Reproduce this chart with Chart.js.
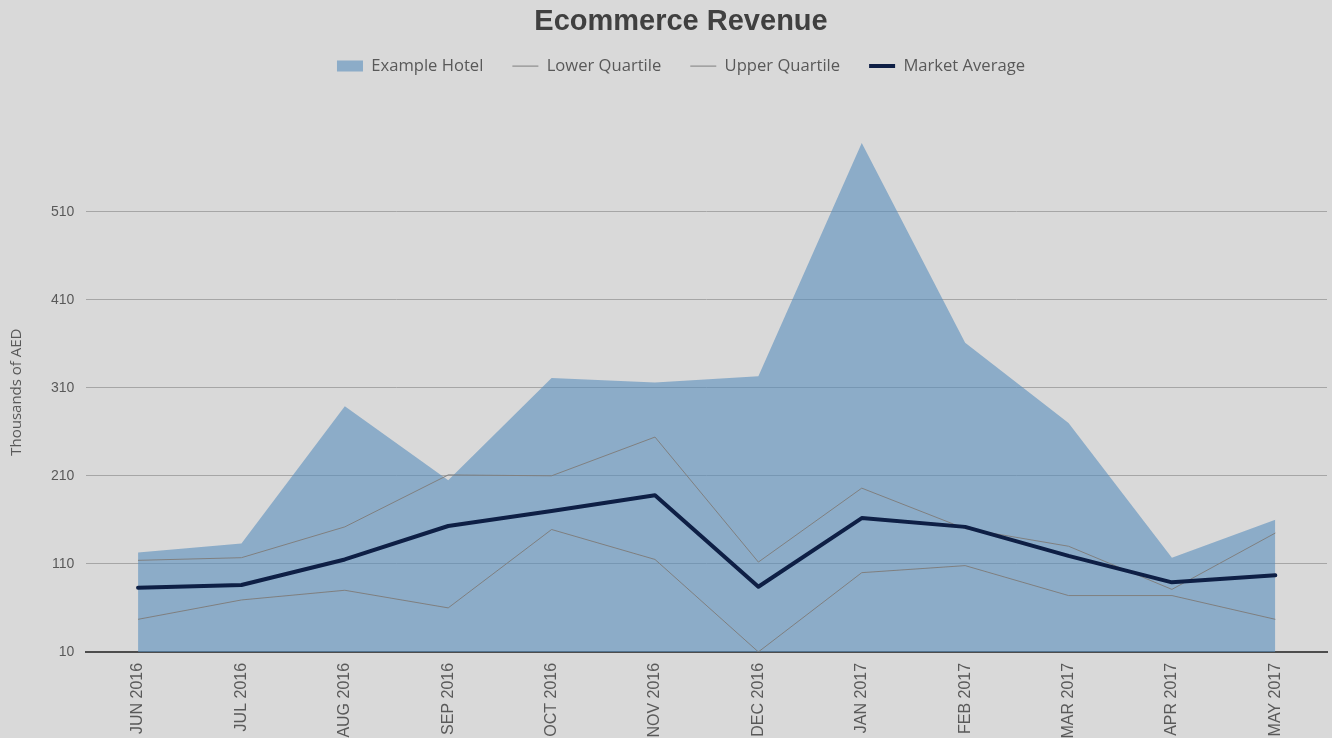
<!DOCTYPE html>
<html>
<head>
<meta charset="utf-8">
<script src="https://cdn.jsdelivr.net/npm/chart.js@4"></script>
<style>
html,body{margin:0;padding:0;background:#D9D9D9;}
#wrap{width:1332px;height:738px;}
</style>
</head>
<body>
<div id="wrap"><canvas id="c" width="1332" height="738"></canvas></div>
<script>
const categories = ["JUN 2016","JUL 2016","AUG 2016","SEP 2016","OCT 2016","NOV 2016","DEC 2016","JAN 2017","FEB 2017","MAR 2017","APR 2017","MAY 2017"];
const exampleHotel  = [123, 133, 289, 205, 321, 316, 323, 588, 361, 270, 117, 160];
const lowerQuartile = [47, 69, 80, 60, 149, 115, 10, 100, 108, 74, 74, 47];
const upperQuartile = [114, 117, 152, 211, 210, 254, 112, 196, 150, 130, 81, 145];
const marketAverage = [83, 86, 115, 153, 170, 188, 84, 162, 152, 119, 89, 97];
const yTickValues = [10, 110, 210, 310, 410, 510];
const yMin = 10, yMax = 600;

const textColor = '#595959';
const headerShift = 15;

const shiftHeader = {
  id: 'shiftHeader',
  afterLayout(chart) {
    [chart.titleBlock, chart.legend].forEach(b => {
      if (b) { b.left += headerShift; b.right += headerShift; }
    });
  }
};

new Chart(document.getElementById('c'), {
  type: 'line',
  plugins: [shiftHeader],
  data: {
    labels: categories,
    datasets: [
      {
        label: 'Example Hotel', data: exampleHotel, fill: 'start',
        backgroundColor: 'rgba(89,142,189,0.6)', borderWidth: 0, borderColor: 'rgba(0,0,0,0)',
        pointRadius: 0, tension: 0, order: 10,
        legendStyle: 'rect', legendFill: '#8CACC8', legendLine: 0
      },
      {
        label: 'Lower Quartile', data: lowerQuartile, fill: false,
        borderColor: '#7F7F7F', borderWidth: 1, pointRadius: 0, tension: 0, order: 3,
        legendStyle: 'line', legendFill: '#7F7F7F', legendLine: 1
      },
      {
        label: 'Upper Quartile', data: upperQuartile, fill: false,
        borderColor: '#7F7F7F', borderWidth: 1, pointRadius: 0, tension: 0, order: 2,
        legendStyle: 'line', legendFill: '#7F7F7F', legendLine: 1
      },
      {
        label: 'Market Average', data: marketAverage, fill: false,
        borderColor: '#0E1F45', borderWidth: 4, pointRadius: 0, tension: 0, order: 1,
        borderJoinStyle: 'round', borderCapStyle: 'round',
        legendStyle: 'line', legendFill: '#0E1F45', legendLine: 4
      }
    ]
  },
  options: {
    responsive: false,
    animation: false,
    devicePixelRatio: 1,
    layout: { padding: { left: 5, right: 5, top: 0, bottom: -11.5 } },
    plugins: {
      tooltip: { enabled: false },
      title: {
        display: true, text: 'Ecommerce Revenue', color: '#404040',
        font: { family: 'Liberation Sans', size: 29, weight: 'bold', lineHeight: 1.2 },
        padding: { top: 5, bottom: -11 }
      },
      subtitle: {
        display: true, text: '', weight: 500,
        font: { size: 1, lineHeight: 1 },
        padding: { top: 0, bottom: 47 }
      },
      legend: {
        display: true, position: 'top',
        labels: {
          usePointStyle: true, pointStyleWidth: 26, boxWidth: 26, boxHeight: 11,
          padding: 29, color: textColor,
          font: { family: 'Open Sans', size: 16.6 },
          generateLabels: (chart) => chart.data.datasets.map((ds, i) => ({
            text: ds.label,
            fillStyle: ds.legendFill,
            strokeStyle: ds.legendFill,
            lineWidth: ds.legendLine,
            pointStyle: ds.legendStyle,
            fontColor: textColor,
            hidden: false,
            datasetIndex: i
          }))
        }
      }
    },
    scales: {
      x: {
        offset: true,
        z: 1,
        grid: { display: false, drawTicks: false },
        border: { display: true, color: '#4D4D4D', width: 2 },
        ticks: {
          color: textColor, minRotation: 90, maxRotation: 90, padding: 11,
          font: { family: 'Liberation Sans', size: 16 }, autoSkip: false
        }
      },
      y: {
        min: yMin, max: yMax,
        afterBuildTicks: (scale) => { scale.ticks = yTickValues.map(v => ({ value: v })); },
        grid: { color: '#A6A6A6', lineWidth: 1, drawTicks: false },
        border: { display: false },
        ticks: {
          color: textColor, padding: 12,
          font: { family: 'Liberation Sans', size: 14 }
        },
        title: {
          display: true, text: 'Thousands of AED', color: textColor,
          font: { family: 'Open Sans', size: 15 },
          padding: { top: 3, bottom: 13 }
        }
      }
    }
  }
});
</script>
</body>
</html>
